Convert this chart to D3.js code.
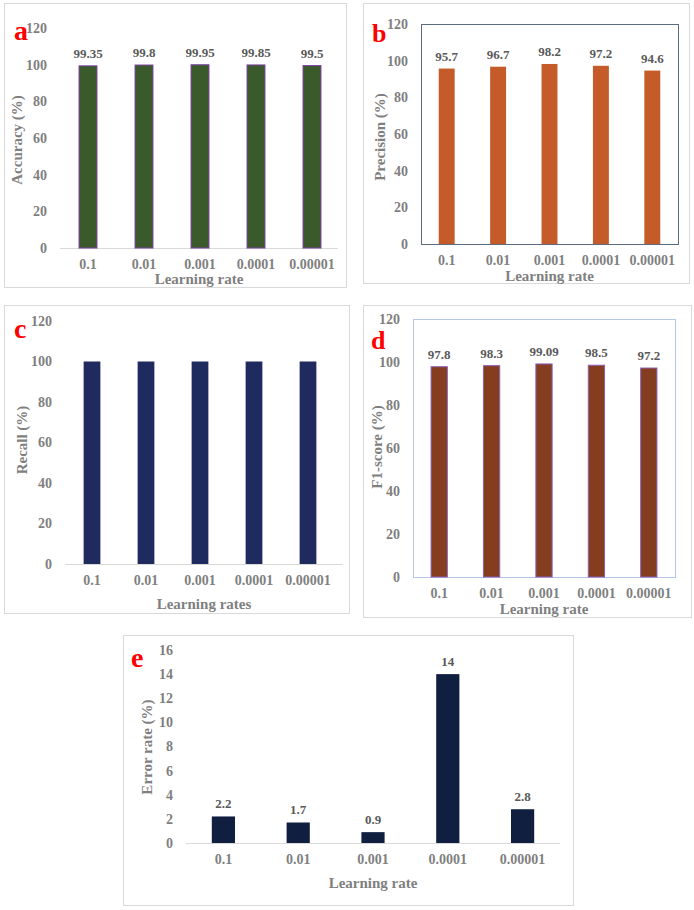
<!DOCTYPE html>
<html>
<head>
<meta charset="utf-8">
<script src="https://cdn.jsdelivr.net/npm/d3@7"></script>
<style>
  html, body { margin: 0; padding: 0; background: #ffffff; }
  svg { display: block; }
  text { font-family: "Liberation Serif", "Times New Roman", serif; font-weight: bold; }
</style>
</head>
<body>
<svg id="chart" width="694" height="910"></svg>
<script>
// ---------------- DATA ----------------
const learningRates = ["0.1", "0.01", "0.001", "0.0001", "0.00001"];
const accuracy  = [99.35, 99.8, 99.95, 99.85, 99.5];
const precision = [95.7, 96.7, 98.2, 97.2, 94.6];
const recall    = [100, 100, 100, 100, 100];
const f1score   = [97.8, 98.3, 99.09, 98.5, 97.2];
const errorRate = [2.2, 1.7, 0.9, 14, 2.8];
const percentTicks = [0, 20, 40, 60, 80, 100, 120];
const errorTicks   = [0, 2, 4, 6, 8, 10, 12, 14, 16];

// ---------------- LAYOUT ----------------
const panels = [
  { letter: "a", values: accuracy, ticks: percentTicks, yMax: 120, showLabels: true,
    yTitle: "Accuracy (%)", xTitle: "Learning rate",
    box: [4, 3, 346, 287], plot: [60, 28, 338, 248], bandEnd: 340,
    fill: "#3b5a2b", stroke: "#7a3ea6", strokeW: 1, padIn: 0.68,
    inner: null, yTitlePos: [17, 140], xTitleY: 284, letterPos: [14, 40], letterSize: 28 },
  { letter: "b", values: precision, ticks: percentTicks, yMax: 120, showLabels: true,
    yTitle: "Precision (%)", xTitle: "Learning rate",
    box: [363, 3, 689, 283], plot: [421, 24, 678, 244], bandEnd: 678,
    fill: "#c55b28", stroke: "none", strokeW: 0, padIn: 0.69,
    inner: "#5d6b7e", yTitlePos: [380, 137], xTitleY: 281, letterPos: [372, 42], letterSize: 26 },
  { letter: "c", values: recall, ticks: percentTicks, yMax: 120, showLabels: false,
    yTitle: "Recall (%)", xTitle: "Learning rates",
    box: [4, 305, 349, 613], plot: [65, 321, 343, 564], bandEnd: 335,
    fill: "#1f2a5e", stroke: "none", strokeW: 0, padIn: 0.69,
    inner: null, yTitlePos: [22, 440], xTitleY: 609, letterPos: [14, 338], letterSize: 28 },
  { letter: "d", values: f1score, ticks: percentTicks, yMax: 120, showLabels: true,
    yTitle: "F1-score (%)", xTitle: "Learning rate",
    box: [363, 305, 691, 617], plot: [413, 319, 675, 577], bandEnd: 675,
    fill: "#843d1f", stroke: "#8c5fb5", strokeW: 1, padIn: 0.69,
    inner: "#b4c7e7", yTitlePos: [377, 447], xTitleY: 614, letterPos: [371, 349], letterSize: 26 },
  { letter: "e", values: errorRate, ticks: errorTicks, yMax: 16, showLabels: true,
    yTitle: "Error rate (%)", xTitle: "Learning rate",
    box: [123, 635, 573, 905], plot: [186, 650, 560, 843], bandEnd: 560,
    fill: "#101e40", stroke: "none", strokeW: 0, padIn: 0.69,
    inner: null, yTitlePos: [147, 747], xTitleY: 888, letterPos: [131, 667], letterSize: 28 }
];

const svg = d3.select("#chart");
const tickColor = "#7f7f7f";
const labelColor = "#595959";
const serif = "'Liberation Serif', 'Times New Roman', serif";

panels.forEach(p => {
  const g = svg.append("g");
  const [bx0, by0, bx1, by1] = p.box;
  g.append("rect")
    .attr("x", bx0 + 0.5).attr("y", by0 + 0.5)
    .attr("width", bx1 - bx0).attr("height", by1 - by0)
    .attr("fill", "#ffffff").attr("stroke", "#d9d9d9").attr("stroke-width", 1);

  const [px0, py0, px1, py1] = p.plot;
  const x = d3.scaleBand().domain(learningRates)
    .range([px0, p.bandEnd]).paddingInner(p.padIn).paddingOuter(p.padIn / 2);
  const y = d3.scaleLinear().domain([0, p.yMax]).range([py1, py0]);

  if (p.inner) {
    g.append("rect")
      .attr("x", px0 + 0.5).attr("y", py0 + 0.5)
      .attr("width", px1 - px0).attr("height", py1 - py0)
      .attr("fill", "none").attr("stroke", p.inner).attr("stroke-width", 1);
  } else {
    g.append("line")
      .attr("x1", px0).attr("x2", px1)
      .attr("y1", py1 + 0.5).attr("y2", py1 + 0.5)
      .attr("stroke", "#d9d9d9").attr("stroke-width", 1);
  }

  // bars
  g.selectAll("rect.bar").data(p.values).join("rect")
    .attr("class", "bar")
    .attr("x", (d, i) => x(learningRates[i]))
    .attr("y", d => y(d))
    .attr("width", x.bandwidth())
    .attr("height", d => y(0) - y(d))
    .attr("fill", p.fill)
    .attr("stroke", p.stroke)
    .attr("stroke-width", p.strokeW);

  // value labels
  if (p.showLabels) {
    g.selectAll("text.val").data(p.values).join("text")
      .attr("class", "val")
      .attr("x", (d, i) => x(learningRates[i]) + x.bandwidth() / 2)
      .attr("y", d => y(d) - 8)
      .attr("text-anchor", "middle")
      .attr("font-size", 13)
      .attr("fill", labelColor)
      .text(d => d);
  }

  // y axis
  const yAxis = g.append("g").attr("transform", `translate(${px0},0)`)
    .call(d3.axisLeft(y).tickValues(p.ticks).tickSize(0).tickPadding(13));
  yAxis.attr("font-family", serif);
  yAxis.select(".domain").remove();
  yAxis.selectAll("text")
    .attr("font-size", 14).attr("fill", tickColor);

  // x axis
  const xAxis = g.append("g").attr("transform", `translate(0,${py1})`)
    .call(d3.axisBottom(x).tickSize(0).tickPadding(11));
  xAxis.attr("font-family", serif);
  xAxis.select(".domain").remove();
  xAxis.selectAll("text")
    .attr("font-size", 14).attr("fill", tickColor);

  // titles
  g.append("text")
    .attr("transform", `translate(${p.yTitlePos[0] + 5},${p.yTitlePos[1]}) rotate(-90)`)
    .attr("text-anchor", "middle")
    .attr("font-size", 15).attr("fill", tickColor)
    .text(p.yTitle);
  g.append("text")
    .attr("x", (px0 + px1) / 2).attr("y", p.xTitleY)
    .attr("text-anchor", "middle")
    .attr("font-size", 15).attr("fill", tickColor)
    .text(p.xTitle);

  // panel letter
  g.append("text")
    .attr("x", p.letterPos[0]).attr("y", p.letterPos[1])
    .attr("font-size", p.letterSize).attr("fill", "#ff0000")
    .text(p.letter);
});
</script>
</body>
</html>
